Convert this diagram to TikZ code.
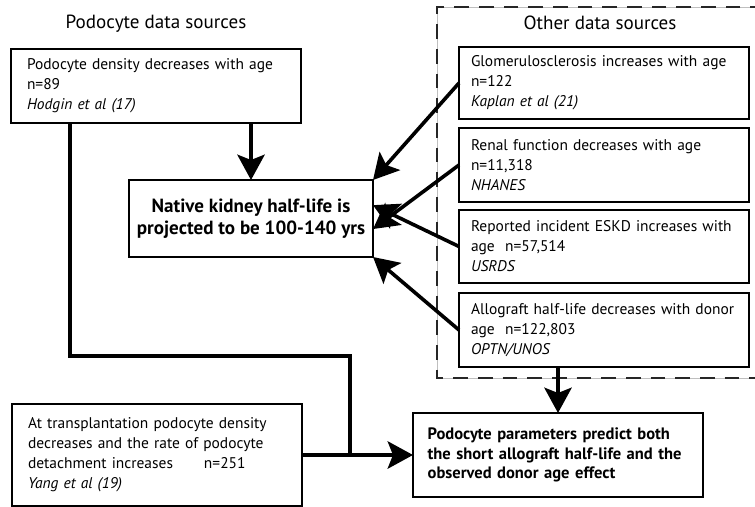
\documentclass[tikz,border=0pt]{standalone}
\usepackage{fontspec}
\setmainfont{PT Sans}
\usepackage{xcolor}
\usetikzlibrary{arrows.meta}

\tikzset{
  srcbox/.style={draw, line width=0.9pt, anchor=north west, align=left, inner xsep=12pt, inner ysep=0pt, outer sep=0pt, text width=193.5pt, font=\fontsize{11.6}{15}\selectfont},
  resbox/.style={draw, line width=2pt, anchor=north west, inner ysep=0pt, outer sep=0pt},
  flow/.style={line width=2.7pt, line join=miter},
  flowarr/.style={flow, -{Stealth[length=19pt, width=20.5pt, inset=4pt]}},
  heading/.style={font=\fontsize{14.3}{16}\selectfont},
}

\begin{document}
\begin{tikzpicture}[x=0.75pt,y=0.75pt,yscale=-1,xscale=1]
      \useasboundingbox[fill=white] (0,0) rectangle (755,506);

      %Shape: Dashed frame
      \draw [color=lightgray, line width=0.5pt] (765,7) -- (437,7) -- (437,378) -- (765,378) ;
      \draw [color=black!85, line width=1pt, dash pattern={on 11pt off 7.5pt}] (765,7) -- (437,7) -- (437,378) -- (765,378) ;

      % Text Node
      \node [heading] (srctitle) at (156,24) {Podocyte data sources};
      % Text Node
      \node [heading] (othertitle) at (600,23) {Other data sources};

      %Shape: Rectangle
      \node [srcbox, minimum height=55.5pt] (hodgin) at (11,49) {Podocyte density decreases with age\\n=89\\\textit{Hodgin et al (17)}};
      %Shape: Rectangle
      \node [resbox, align=center, minimum width=183pt, minimum height=57.75pt, font=\bfseries\fontsize{14.3}{16.5}\selectfont] (native) at (129,180) {Native kidney half-life is\\projected to be 100-140 yrs};
      %Shape: Rectangle
      \node [srcbox, inner xsep=9pt, text width=199.5pt, minimum height=54pt] (glom) at (459,47) {Glomerulosclerosis increases with age\\n=122\\\textit{Kaplan et al (21)}};
      %Shape: Rectangle
      \node [srcbox, inner xsep=9pt, text width=199.5pt, minimum height=55.5pt] (renal) at (459,128) {Renal function decreases with age\\n=11,318\\\textit{NHANES}};
      %Shape: Rectangle
      \node [srcbox, inner xsep=9pt, text width=199.5pt, minimum height=54.75pt] (eskd) at (459,210) {Reported incident ESKD increases with\\age\ \ n=57,514\\\textit{USRDS}};
      %Shape: Rectangle
      \node [srcbox, inner xsep=9pt, text width=199.5pt, minimum height=55.5pt] (allo) at (459,293) {Allograft half-life decreases with donor\\age\ \ n=122,803\\\textit{OPTN/UNOS}};
      %Shape: Rectangle
      \node [srcbox, minimum height=76.5pt] (yang) at (12,404) {At transplantation podocyte density\\decreases and the rate of podocyte\\detachment increases\hspace{2em}n=251\\\textit{Yang et al (19)}};
      %Shape: Rectangle
      \node [resbox, align=left, inner xsep=11pt, text width=195.5pt, minimum height=63pt, font=\bfseries\fontsize{12.4}{14.6}\selectfont] (podo) at (413,413) {Podocyte parameters predict both\\the short allograft half-life and the\\observed donor age effect};

      \coordinate (leftdrop) at (70,0);
      \coordinate (bend) at (350,356);

      %Straight Lines
      \draw [flowarr] (native.north |- hodgin.south) -- (native.north) ;
      %Straight Lines
      \draw [flow] (hodgin.south -| leftdrop) |- (bend) -- (bend |- podo.west) ;
      %Straight Lines
      \draw [flowarr] (yang.east) -- (podo.west) ;
      %Straight Lines
      \draw [flowarr] (podo.north |- allo.south) -- (podo.north) ;
      %Straight Lines
      \draw [flowarr] (glom.west) -- (native.north east) ;
      %Straight Lines
      \draw [flowarr] (renal.west) -- ([yshift=7.9pt]native.east) ;
      %Straight Lines
      \draw [flowarr] (eskd.west) -- ([yshift=-10pt]native.east) ;
      %Straight Lines
      \draw [flowarr] (allo.west) -- (native.south east) ;
    \end{tikzpicture}
\end{document}
